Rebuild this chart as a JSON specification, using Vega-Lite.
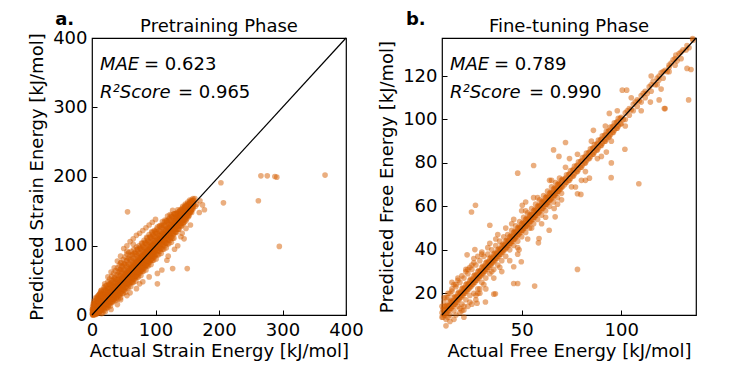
{
"$schema": "https://vega.github.io/schema/vega-lite/v6.json",
"padding": {"left": 28, "top": 10, "right": 0, "bottom": 0},
"background": "white",
"config": {
  "font": "DejaVu Sans",
  "view": {"stroke": "black", "strokeWidth": 1.2},
  "axis": {"domain": false, "grid": false, "ticks": true, "tickSize": -5, "tickColor": "black", "tickWidth": 1, "labelFont": "DejaVu Sans", "titleFont": "DejaVu Sans", "labelFontSize": 18, "titleFontSize": 18, "labelColor": "black", "titleColor": "black", "titleFontWeight": "normal", "labelFlush": false, "labelOverlap": false},
  "axisX": {"labelPadding": 11, "titlePadding": 3},
  "axisY": {"labelPadding": 10, "titlePadding": 6},
  "title": {"font": "DejaVu Sans", "fontSize": 18, "fontWeight": "normal", "color": "black", "offset": -25}
},
"datasets": {
"A": [
{"x":1,"y":1},{"x":1,"y":4},{"x":1,"y":0},{"x":2,"y":3},{"x":2,"y":0},{"x":2,"y":7},{"x":3,"y":2},{"x":3,"y":9},{"x":3,"y":5},{"x":4,"y":6},{"x":4,"y":1},{"x":4,"y":12},{"x":5,"y":4},{"x":5,"y":10},{"x":5,"y":16},{"x":6,"y":8},{"x":6,"y":2},{"x":6,"y":20},{"x":7,"y":5},{"x":7,"y":13},{"x":7,"y":9},{"x":8,"y":10},{"x":8,"y":3},{"x":8,"y":18},{"x":9,"y":7},{"x":9,"y":15},{"x":9,"y":24},{"x":10,"y":12},{"x":10,"y":5},{"x":10,"y":28},
{"x":11,"y":9},{"x":11,"y":17},{"x":11,"y":14},{"x":12,"y":14},{"x":12,"y":6},{"x":12,"y":22},{"x":13,"y":11},{"x":13,"y":19},{"x":13,"y":32},{"x":14,"y":16},{"x":14,"y":8},{"x":14,"y":25},{"x":15,"y":13},{"x":15,"y":21},{"x":15,"y":36},{"x":16,"y":18},{"x":16,"y":9},{"x":16,"y":29},{"x":17,"y":15},{"x":17,"y":23},{"x":17,"y":12},{"x":18,"y":20},{"x":18,"y":11},{"x":18,"y":33},{"x":19,"y":17},{"x":19,"y":25},{"x":19,"y":40},{"x":20,"y":22},{"x":20,"y":13},{"x":20,"y":30},
{"x":21,"y":19},{"x":21,"y":27},{"x":21,"y":42},{"x":22,"y":24},{"x":22,"y":15},{"x":22,"y":35},{"x":23,"y":21},{"x":23,"y":29},{"x":23,"y":12},{"x":24,"y":26},{"x":24,"y":17},{"x":24,"y":38},{"x":25,"y":23},{"x":25,"y":31},{"x":25,"y":48},{"x":26,"y":28},{"x":26,"y":19},{"x":26,"y":14},{"x":27,"y":25},{"x":27,"y":33},{"x":27,"y":44},{"x":28,"y":30},{"x":28,"y":21},{"x":28,"y":52},{"x":29,"y":27},{"x":29,"y":35},{"x":29,"y":18},{"x":30,"y":32},{"x":30,"y":23},{"x":30,"y":46},
{"x":31,"y":29},{"x":31,"y":37},{"x":31,"y":56},{"x":32,"y":34},{"x":32,"y":25},{"x":32,"y":20},{"x":33,"y":31},{"x":33,"y":39},{"x":33,"y":50},{"x":34,"y":36},{"x":34,"y":27},{"x":34,"y":60},{"x":35,"y":33},{"x":35,"y":41},{"x":35,"y":22},{"x":36,"y":38},{"x":36,"y":29},{"x":36,"y":54},{"x":37,"y":35},{"x":37,"y":43},{"x":37,"y":64},{"x":38,"y":40},{"x":38,"y":31},{"x":38,"y":24},{"x":39,"y":37},{"x":39,"y":45},{"x":39,"y":58},{"x":40,"y":42},{"x":40,"y":33},{"x":40,"y":68},
{"x":41,"y":39},{"x":41,"y":47},{"x":41,"y":28},{"x":42,"y":44},{"x":42,"y":35},{"x":42,"y":62},{"x":43,"y":41},{"x":43,"y":49},{"x":43,"y":72},{"x":44,"y":46},{"x":44,"y":37},{"x":44,"y":30},{"x":45,"y":43},{"x":45,"y":51},{"x":45,"y":66},{"x":46,"y":48},{"x":46,"y":39},{"x":46,"y":76},{"x":47,"y":45},{"x":47,"y":53},{"x":47,"y":34},{"x":48,"y":50},{"x":48,"y":41},{"x":48,"y":70},{"x":49,"y":47},{"x":49,"y":55},{"x":49,"y":80},{"x":50,"y":52},{"x":50,"y":43},{"x":50,"y":36},
{"x":51,"y":49},{"x":51,"y":57},{"x":51,"y":74},{"x":52,"y":54},{"x":52,"y":45},{"x":52,"y":84},{"x":53,"y":51},{"x":53,"y":59},{"x":53,"y":40},{"x":54,"y":56},{"x":54,"y":47},{"x":54,"y":78},{"x":55,"y":53},{"x":55,"y":61},{"x":55,"y":88},{"x":56,"y":58},{"x":56,"y":49},{"x":56,"y":44},{"x":57,"y":55},{"x":57,"y":63},{"x":57,"y":82},{"x":58,"y":60},{"x":58,"y":51},{"x":58,"y":90},{"x":59,"y":57},{"x":59,"y":65},{"x":59,"y":46},{"x":60,"y":62},{"x":60,"y":53},{"x":60,"y":86},
{"x":61,"y":59},{"x":61,"y":67},{"x":61,"y":50},{"x":62,"y":64},{"x":62,"y":55},{"x":62,"y":92},{"x":63,"y":61},{"x":63,"y":69},{"x":63,"y":48},{"x":64,"y":66},{"x":64,"y":57},{"x":64,"y":88},{"x":65,"y":63},{"x":65,"y":71},{"x":65,"y":52},{"x":66,"y":68},{"x":66,"y":59},{"x":66,"y":95},{"x":67,"y":65},{"x":67,"y":73},{"x":67,"y":54},{"x":68,"y":70},{"x":68,"y":61},{"x":68,"y":90},{"x":69,"y":67},{"x":69,"y":75},{"x":69,"y":56},{"x":70,"y":72},{"x":70,"y":63},{"x":70,"y":98},
{"x":71,"y":69},{"x":71,"y":77},{"x":71,"y":58},{"x":72,"y":74},{"x":72,"y":65},{"x":72,"y":94},{"x":73,"y":71},{"x":73,"y":79},{"x":73,"y":60},{"x":74,"y":76},{"x":74,"y":67},{"x":74,"y":100},{"x":75,"y":73},{"x":75,"y":81},{"x":75,"y":62},{"x":76,"y":78},{"x":76,"y":69},{"x":76,"y":96},{"x":77,"y":75},{"x":77,"y":83},{"x":77,"y":64},{"x":78,"y":80},{"x":78,"y":71},{"x":78,"y":104},{"x":79,"y":77},{"x":79,"y":85},{"x":79,"y":66},{"x":80,"y":82},{"x":80,"y":73},{"x":80,"y":100},
{"x":81,"y":79},{"x":81,"y":87},{"x":81,"y":68},{"x":82,"y":84},{"x":82,"y":75},{"x":82,"y":108},{"x":83,"y":81},{"x":83,"y":89},{"x":83,"y":70},{"x":84,"y":86},{"x":84,"y":77},{"x":84,"y":104},{"x":85,"y":83},{"x":85,"y":91},{"x":85,"y":72},{"x":86,"y":88},{"x":86,"y":79},{"x":86,"y":112},{"x":87,"y":85},{"x":87,"y":93},{"x":87,"y":74},{"x":88,"y":90},{"x":88,"y":81},{"x":88,"y":108},{"x":89,"y":87},{"x":89,"y":95},{"x":89,"y":76},{"x":90,"y":92},{"x":90,"y":83},{"x":90,"y":116},
{"x":91,"y":89},{"x":91,"y":97},{"x":91,"y":78},{"x":92,"y":94},{"x":92,"y":85},{"x":92,"y":112},{"x":93,"y":91},{"x":93,"y":99},{"x":93,"y":80},{"x":94,"y":96},{"x":94,"y":87},{"x":94,"y":120},{"x":95,"y":93},{"x":95,"y":101},{"x":95,"y":82},{"x":96,"y":98},{"x":96,"y":89},{"x":96,"y":116},{"x":97,"y":95},{"x":97,"y":103},{"x":97,"y":84},{"x":98,"y":100},{"x":98,"y":91},{"x":98,"y":122},{"x":99,"y":97},{"x":99,"y":105},{"x":99,"y":86},{"x":100,"y":102},{"x":100,"y":93},{"x":100,"y":118},
{"x":102,"y":104},{"x":102,"y":96},{"x":102,"y":124},{"x":104,"y":102},{"x":104,"y":110},{"x":104,"y":92},{"x":106,"y":108},{"x":106,"y":100},{"x":106,"y":128},{"x":108,"y":106},{"x":108,"y":114},{"x":108,"y":96},{"x":110,"y":112},{"x":110,"y":104},{"x":110,"y":130},{"x":112,"y":110},{"x":112,"y":118},{"x":112,"y":100},{"x":114,"y":116},{"x":114,"y":108},{"x":114,"y":134},{"x":116,"y":114},{"x":116,"y":122},{"x":116,"y":104},{"x":118,"y":120},{"x":118,"y":112},{"x":118,"y":136},{"x":120,"y":118},{"x":120,"y":126},{"x":120,"y":108},
{"x":122,"y":124},{"x":122,"y":116},{"x":122,"y":140},{"x":124,"y":122},{"x":124,"y":130},{"x":124,"y":112},{"x":126,"y":128},{"x":126,"y":120},{"x":126,"y":142},{"x":128,"y":126},{"x":128,"y":134},{"x":128,"y":116},{"x":130,"y":132},{"x":130,"y":124},{"x":130,"y":146},{"x":132,"y":130},{"x":132,"y":138},{"x":132,"y":120},{"x":134,"y":136},{"x":134,"y":128},{"x":134,"y":148},{"x":136,"y":134},{"x":136,"y":142},{"x":136,"y":124},{"x":138,"y":140},{"x":138,"y":132},{"x":138,"y":150},{"x":140,"y":138},{"x":140,"y":146},{"x":140,"y":128},
{"x":142,"y":144},{"x":142,"y":136},{"x":142,"y":154},{"x":144,"y":142},{"x":144,"y":150},{"x":144,"y":132},{"x":146,"y":148},{"x":146,"y":140},{"x":146,"y":156},{"x":148,"y":146},{"x":148,"y":154},{"x":148,"y":136},{"x":150,"y":152},{"x":150,"y":144},{"x":150,"y":160},{"x":152,"y":150},{"x":152,"y":158},{"x":152,"y":142},{"x":154,"y":156},{"x":154,"y":148},{"x":154,"y":162},{"x":156,"y":154},{"x":156,"y":160},{"x":156,"y":150},{"x":158,"y":160},{"x":158,"y":156},{"x":158,"y":164},{"x":160,"y":162},{"x":160,"y":158},{"x":160,"y":166},
{"x":1,"y":2},{"x":1,"y":6},{"x":1,"y":9},{"x":1,"y":12},{"x":3,"y":0},{"x":3,"y":4},{"x":3,"y":6},{"x":3,"y":13},{"x":3,"y":17},{"x":5,"y":1},{"x":5,"y":3},{"x":5,"y":7},{"x":5,"y":11},{"x":5,"y":20},{"x":7,"y":2},{"x":7,"y":4},{"x":7,"y":7},{"x":7,"y":18},{"x":7,"y":24},{"x":9,"y":3},{"x":9,"y":6},{"x":9,"y":11},{"x":9,"y":20},{"x":9,"y":27},{"x":11,"y":4},{"x":11,"y":7},{"x":11,"y":13},{"x":11,"y":23},{"x":11,"y":29},{"x":13,"y":5},{"x":13,"y":9},{"x":13,"y":15},{"x":13,"y":25},{"x":13,"y":31},
{"x":15,"y":2},{"x":15,"y":8},{"x":15,"y":17},{"x":15,"y":27},{"x":15,"y":34},{"x":17,"y":3},{"x":17,"y":8},{"x":17,"y":13},{"x":17,"y":20},{"x":17,"y":25},{"x":17,"y":31},{"x":19,"y":7},{"x":19,"y":13},{"x":19,"y":21},{"x":19,"y":30},{"x":19,"y":37},{"x":21,"y":5},{"x":21,"y":11},{"x":21,"y":16},{"x":21,"y":20},{"x":21,"y":26},{"x":21,"y":31},{"x":21,"y":36},{"x":23,"y":10},{"x":23,"y":16},{"x":23,"y":25},{"x":23,"y":35},{"x":23,"y":42},
{"x":25,"y":11},{"x":25,"y":16},{"x":25,"y":21},{"x":25,"y":28},{"x":25,"y":33},{"x":25,"y":39},{"x":27,"y":15},{"x":27,"y":21},{"x":27,"y":29},{"x":27,"y":38},{"x":27,"y":45},{"x":29,"y":13},{"x":29,"y":19},{"x":29,"y":24},{"x":29,"y":28},{"x":29,"y":34},{"x":29,"y":39},{"x":29,"y":44},{"x":31,"y":18},{"x":31,"y":24},{"x":31,"y":33},{"x":31,"y":43},{"x":31,"y":50},
{"x":33,"y":19},{"x":33,"y":24},{"x":33,"y":29},{"x":33,"y":36},{"x":33,"y":41},{"x":33,"y":47},{"x":35,"y":23},{"x":35,"y":29},{"x":35,"y":37},{"x":35,"y":46},{"x":35,"y":53},{"x":37,"y":21},{"x":37,"y":27},{"x":37,"y":32},{"x":37,"y":36},{"x":37,"y":42},{"x":37,"y":47},{"x":37,"y":52},{"x":39,"y":26},{"x":39,"y":32},{"x":39,"y":41},{"x":39,"y":51},
{"x":41,"y":23},{"x":41,"y":30},{"x":41,"y":36},{"x":41,"y":41},{"x":41,"y":45},{"x":41,"y":51},{"x":41,"y":58},{"x":43,"y":28},{"x":43,"y":35},{"x":43,"y":46},{"x":43,"y":51},{"x":43,"y":57},{"x":43,"y":65},{"x":45,"y":25},{"x":45,"y":32},{"x":45,"y":39},{"x":45,"y":44},{"x":45,"y":57},{"x":45,"y":64},{"x":47,"y":31},{"x":47,"y":38},{"x":47,"y":44},{"x":47,"y":49},{"x":47,"y":54},{"x":47,"y":62},{"x":47,"y":71},
{"x":49,"y":31},{"x":49,"y":38},{"x":49,"y":44},{"x":49,"y":49},{"x":49,"y":53},{"x":49,"y":59},{"x":49,"y":66},{"x":51,"y":36},{"x":51,"y":43},{"x":51,"y":54},{"x":51,"y":59},{"x":51,"y":65},{"x":51,"y":73},{"x":53,"y":33},{"x":53,"y":40},{"x":53,"y":47},{"x":53,"y":52},{"x":53,"y":59},{"x":53,"y":65},{"x":53,"y":72},{"x":55,"y":39},{"x":55,"y":46},{"x":55,"y":52},{"x":55,"y":57},{"x":55,"y":62},{"x":55,"y":70},{"x":55,"y":79},
{"x":57,"y":39},{"x":57,"y":46},{"x":57,"y":52},{"x":57,"y":57},{"x":57,"y":61},{"x":57,"y":67},{"x":57,"y":74},{"x":59,"y":44},{"x":59,"y":51},{"x":59,"y":62},{"x":59,"y":67},{"x":59,"y":73},{"x":59,"y":81},{"x":61,"y":41},{"x":61,"y":48},{"x":61,"y":55},{"x":61,"y":60},{"x":61,"y":67},{"x":61,"y":73},{"x":61,"y":80},{"x":63,"y":47},{"x":63,"y":54},{"x":63,"y":60},{"x":63,"y":65},{"x":63,"y":70},{"x":63,"y":78},{"x":63,"y":87},
{"x":65,"y":47},{"x":65,"y":54},{"x":65,"y":60},{"x":65,"y":65},{"x":65,"y":69},{"x":65,"y":75},{"x":65,"y":82},{"x":67,"y":52},{"x":67,"y":59},{"x":67,"y":70},{"x":67,"y":75},{"x":67,"y":81},{"x":67,"y":89},{"x":69,"y":49},{"x":69,"y":56},{"x":69,"y":63},{"x":69,"y":68},{"x":69,"y":75},{"x":69,"y":81},{"x":69,"y":88},{"x":71,"y":55},{"x":71,"y":62},{"x":71,"y":68},{"x":71,"y":73},{"x":71,"y":78},{"x":71,"y":86},{"x":71,"y":95},
{"x":73,"y":55},{"x":73,"y":62},{"x":73,"y":68},{"x":73,"y":73},{"x":73,"y":77},{"x":73,"y":83},{"x":73,"y":90},{"x":75,"y":60},{"x":75,"y":67},{"x":75,"y":78},{"x":75,"y":83},{"x":75,"y":89},{"x":75,"y":97},{"x":77,"y":57},{"x":77,"y":64},{"x":77,"y":71},{"x":77,"y":76},{"x":77,"y":83},{"x":77,"y":89},{"x":77,"y":96},{"x":79,"y":63},{"x":79,"y":70},{"x":79,"y":76},{"x":79,"y":81},{"x":79,"y":86},{"x":79,"y":94},{"x":79,"y":103},
{"x":81,"y":63},{"x":81,"y":70},{"x":81,"y":76},{"x":81,"y":81},{"x":81,"y":85},{"x":81,"y":91},{"x":81,"y":98},{"x":83,"y":68},{"x":83,"y":75},{"x":83,"y":86},{"x":83,"y":91},{"x":83,"y":97},{"x":83,"y":105},{"x":85,"y":65},{"x":85,"y":72},{"x":85,"y":79},{"x":85,"y":84},{"x":85,"y":91},{"x":85,"y":97},{"x":85,"y":104},{"x":87,"y":71},{"x":87,"y":78},{"x":87,"y":84},{"x":87,"y":89},{"x":87,"y":94},{"x":87,"y":102},{"x":87,"y":111},
{"x":89,"y":71},{"x":89,"y":78},{"x":89,"y":84},{"x":89,"y":89},{"x":89,"y":93},{"x":89,"y":99},{"x":89,"y":106},{"x":91,"y":76},{"x":91,"y":83},{"x":91,"y":94},{"x":91,"y":99},{"x":91,"y":105},{"x":91,"y":113},{"x":93,"y":73},{"x":93,"y":80},{"x":93,"y":87},{"x":93,"y":92},{"x":93,"y":99},{"x":93,"y":105},{"x":93,"y":112},{"x":95,"y":79},{"x":95,"y":86},{"x":95,"y":92},{"x":95,"y":97},{"x":95,"y":102},{"x":95,"y":110},{"x":95,"y":119},
{"x":97,"y":79},{"x":97,"y":86},{"x":97,"y":92},{"x":97,"y":97},{"x":97,"y":101},{"x":97,"y":107},{"x":97,"y":114},{"x":99,"y":84},{"x":99,"y":91},{"x":99,"y":102},{"x":99,"y":107},{"x":99,"y":113},{"x":99,"y":121},{"x":101,"y":81},{"x":101,"y":88},{"x":101,"y":95},{"x":101,"y":100},{"x":101,"y":107},{"x":101,"y":113},{"x":101,"y":120},{"x":103,"y":87},{"x":103,"y":94},{"x":103,"y":100},{"x":103,"y":105},{"x":103,"y":110},{"x":103,"y":118},{"x":103,"y":127},
{"x":105,"y":87},{"x":105,"y":94},{"x":105,"y":100},{"x":105,"y":105},{"x":105,"y":109},{"x":105,"y":115},{"x":105,"y":122},{"x":107,"y":92},{"x":107,"y":99},{"x":107,"y":105},{"x":107,"y":110},{"x":107,"y":115},{"x":107,"y":121},{"x":107,"y":129},{"x":109,"y":89},{"x":109,"y":96},{"x":109,"y":103},{"x":109,"y":108},{"x":109,"y":115},{"x":109,"y":121},{"x":109,"y":128},{"x":111,"y":95},{"x":111,"y":102},{"x":111,"y":108},{"x":111,"y":113},{"x":111,"y":118},{"x":111,"y":126},{"x":111,"y":135},
{"x":113,"y":95},{"x":113,"y":102},{"x":113,"y":108},{"x":113,"y":113},{"x":113,"y":117},{"x":113,"y":123},{"x":113,"y":130},{"x":115,"y":100},{"x":115,"y":107},{"x":115,"y":113},{"x":115,"y":118},{"x":115,"y":123},{"x":115,"y":129},{"x":115,"y":137},{"x":117,"y":97},{"x":117,"y":104},{"x":117,"y":111},{"x":117,"y":116},{"x":117,"y":123},{"x":117,"y":129},{"x":117,"y":136},{"x":119,"y":103},{"x":119,"y":110},{"x":119,"y":116},{"x":119,"y":121},{"x":119,"y":126},{"x":119,"y":134},{"x":119,"y":143},
{"x":121,"y":103},{"x":121,"y":110},{"x":121,"y":116},{"x":121,"y":121},{"x":121,"y":125},{"x":121,"y":131},{"x":121,"y":138},{"x":123,"y":108},{"x":123,"y":115},{"x":123,"y":121},{"x":123,"y":126},{"x":123,"y":131},{"x":123,"y":137},{"x":123,"y":145},{"x":125,"y":105},{"x":125,"y":112},{"x":125,"y":119},{"x":125,"y":124},{"x":125,"y":131},{"x":125,"y":137},{"x":125,"y":144},{"x":127,"y":111},{"x":127,"y":118},{"x":127,"y":124},{"x":127,"y":129},{"x":127,"y":134},{"x":127,"y":142},{"x":127,"y":151},
{"x":129,"y":111},{"x":129,"y":118},{"x":129,"y":124},{"x":129,"y":129},{"x":129,"y":133},{"x":129,"y":139},{"x":129,"y":146},{"x":131,"y":120},{"x":131,"y":125},{"x":131,"y":130},{"x":131,"y":133},{"x":131,"y":137},{"x":131,"y":141},{"x":131,"y":146},{"x":133,"y":119},{"x":133,"y":124},{"x":133,"y":129},{"x":133,"y":132},{"x":133,"y":137},{"x":133,"y":141},{"x":133,"y":146},{"x":135,"y":124},{"x":135,"y":129},{"x":135,"y":133},{"x":135,"y":136},{"x":135,"y":140},{"x":135,"y":146},{"x":135,"y":152},
{"x":137,"y":124},{"x":137,"y":129},{"x":137,"y":133},{"x":137,"y":137},{"x":137,"y":140},{"x":137,"y":144},{"x":137,"y":149},{"x":139,"y":130},{"x":139,"y":134},{"x":139,"y":138},{"x":139,"y":141},{"x":139,"y":144},{"x":139,"y":147},{"x":139,"y":152},{"x":141,"y":129},{"x":141,"y":133},{"x":141,"y":137},{"x":141,"y":140},{"x":141,"y":145},{"x":141,"y":148},{"x":141,"y":152},{"x":143,"y":133},{"x":143,"y":138},{"x":143,"y":141},{"x":143,"y":144},{"x":143,"y":147},{"x":143,"y":152},{"x":143,"y":157},
{"x":145,"y":134},{"x":145,"y":138},{"x":145,"y":142},{"x":145,"y":145},{"x":145,"y":147},{"x":145,"y":151},{"x":145,"y":155},{"x":147,"y":138},{"x":147,"y":142},{"x":147,"y":146},{"x":147,"y":149},{"x":147,"y":152},{"x":147,"y":155},{"x":147,"y":160},{"x":149,"y":139},{"x":149,"y":142},{"x":149,"y":146},{"x":149,"y":148},{"x":149,"y":152},{"x":149,"y":155},{"x":149,"y":158},{"x":151,"y":143},{"x":151,"y":146},{"x":151,"y":150},{"x":151,"y":152},{"x":151,"y":155},{"x":151,"y":158},{"x":151,"y":163},
{"x":153,"y":144},{"x":153,"y":148},{"x":153,"y":150},{"x":153,"y":153},{"x":153,"y":155},{"x":153,"y":158},{"x":153,"y":161},{"x":155,"y":148},{"x":155,"y":151},{"x":155,"y":154},{"x":155,"y":156},{"x":155,"y":159},{"x":155,"y":162},{"x":155,"y":164},{"x":157,"y":148},{"x":157,"y":152},{"x":157,"y":155},{"x":157,"y":157},{"x":157,"y":160},{"x":157,"y":163},{"x":157,"y":166},{"x":159,"y":153},{"x":159,"y":155},{"x":159,"y":158},{"x":159,"y":160},{"x":159,"y":162},{"x":159,"y":165},{"x":159,"y":168},
{"x":0.5,"y":2},{"x":1,"y":6},{"x":2,"y":2},{"x":3,"y":14},{"x":0.5,"y":8},{"x":4,"y":3},{"x":5,"y":7},{"x":6,"y":15},{"x":7,"y":1},{"x":8,"y":24},{"x":2,"y":16},{"x":9,"y":12},{"x":10,"y":20},{"x":11,"y":3},{"x":12,"y":30},{"x":3,"y":20},{"x":13,"y":7},{"x":14,"y":35},{"x":15,"y":28},{"x":6,"y":25},
{"x":20,"y":45},{"x":25,"y":55},{"x":30,"y":62},{"x":35,"y":68},{"x":40,"y":78},{"x":45,"y":85},{"x":50,"y":96},{"x":55,"y":100},{"x":60,"y":106},{"x":65,"y":110},{"x":70,"y":115},{"x":75,"y":118},{"x":80,"y":122},{"x":85,"y":126},{"x":90,"y":130},{"x":95,"y":134},{"x":100,"y":138},{"x":45,"y":75},{"x":55,"y":92},{"x":65,"y":102},
{"x":30,"y":8},{"x":40,"y":15},{"x":45,"y":22},{"x":55,"y":28},{"x":60,"y":32},{"x":70,"y":38},{"x":75,"y":45},{"x":80,"y":48},{"x":90,"y":55},{"x":103,"y":45},{"x":103,"y":60},{"x":110,"y":65},{"x":118,"y":79},{"x":127,"y":67},{"x":120,"y":85},{"x":130,"y":95},{"x":140,"y":113},{"x":145,"y":110},{"x":150,"y":67},{"x":135,"y":100},{"x":142,"y":118},{"x":148,"y":125},{"x":155,"y":130},
{"x":56,"y":149},{"x":169,"y":148},{"x":174,"y":159},{"x":177,"y":152},{"x":165,"y":160},{"x":163,"y":157},{"x":170,"y":165},{"x":154,"y":166},{"x":162,"y":168},{"x":147,"y":158},{"x":203,"y":191},{"x":207,"y":162},{"x":266,"y":201},{"x":276,"y":201},{"x":288,"y":200},{"x":291,"y":199},{"x":367,"y":202},{"x":262,"y":165},{"x":295,"y":99}
],
"B": [
{"x":10,"y":11},{"x":10,"y":9},{"x":10,"y":14},{"x":11,"y":12},{"x":11,"y":10},{"x":11,"y":16},{"x":12,"y":11},{"x":12,"y":14},{"x":12,"y":8},{"x":13,"y":14},{"x":13,"y":12},{"x":13,"y":18},{"x":14,"y":13},{"x":14,"y":16},{"x":14,"y":10},{"x":15,"y":16},{"x":15,"y":14},{"x":15,"y":21},{"x":16,"y":15},{"x":16,"y":18},{"x":16,"y":12},{"x":17,"y":18},{"x":17,"y":16},{"x":17,"y":23},{"x":18,"y":17},{"x":18,"y":20},{"x":18,"y":14},{"x":19,"y":20},{"x":19,"y":18},{"x":19,"y":25},{"x":20,"y":19},{"x":20,"y":22},{"x":20,"y":15},
{"x":21,"y":22},{"x":21,"y":20},{"x":21,"y":27},{"x":22,"y":21},{"x":22,"y":24},{"x":22,"y":17},{"x":23,"y":24},{"x":23,"y":22},{"x":23,"y":29},{"x":24,"y":23},{"x":24,"y":26},{"x":24,"y":19},{"x":25,"y":26},{"x":25,"y":24},{"x":25,"y":31},{"x":26,"y":25},{"x":26,"y":28},{"x":26,"y":20},{"x":27,"y":28},{"x":27,"y":26},{"x":27,"y":33},{"x":28,"y":27},{"x":28,"y":30},{"x":28,"y":22},{"x":29,"y":30},{"x":29,"y":28},{"x":29,"y":35},{"x":30,"y":29},{"x":30,"y":32},{"x":30,"y":25},
{"x":31,"y":32},{"x":31,"y":30},{"x":31,"y":37},{"x":32,"y":31},{"x":32,"y":34},{"x":32,"y":27},{"x":33,"y":34},{"x":33,"y":32},{"x":33,"y":38},{"x":34,"y":33},{"x":34,"y":36},{"x":34,"y":29},{"x":35,"y":36},{"x":35,"y":34},{"x":35,"y":40},{"x":36,"y":35},{"x":36,"y":38},{"x":36,"y":31},{"x":37,"y":38},{"x":37,"y":36},{"x":37,"y":42},{"x":38,"y":37},{"x":38,"y":40},{"x":38,"y":33},{"x":39,"y":40},{"x":39,"y":38},{"x":39,"y":44},{"x":40,"y":39},{"x":40,"y":42},{"x":40,"y":35},
{"x":41,"y":42},{"x":41,"y":40},{"x":41,"y":46},{"x":42,"y":41},{"x":42,"y":44},{"x":42,"y":37},{"x":43,"y":44},{"x":43,"y":42},{"x":43,"y":47},{"x":44,"y":43},{"x":44,"y":46},{"x":44,"y":40},{"x":45,"y":46},{"x":45,"y":44},{"x":45,"y":49},{"x":46,"y":45},{"x":46,"y":48},{"x":46,"y":42},{"x":47,"y":48},{"x":47,"y":46},{"x":47,"y":51},{"x":48,"y":47},{"x":48,"y":50},{"x":48,"y":44},{"x":49,"y":50},{"x":49,"y":48},{"x":49,"y":53},{"x":50,"y":49},{"x":50,"y":52},{"x":50,"y":46},
{"x":51,"y":52},{"x":51,"y":50},{"x":51,"y":55},{"x":52,"y":51},{"x":52,"y":54},{"x":52,"y":48},{"x":53,"y":54},{"x":53,"y":52},{"x":53,"y":57},{"x":54,"y":53},{"x":54,"y":56},{"x":54,"y":50},{"x":55,"y":56},{"x":55,"y":54},{"x":55,"y":59},{"x":56,"y":55},{"x":56,"y":58},{"x":56,"y":52},{"x":57,"y":58},{"x":57,"y":56},{"x":57,"y":61},{"x":58,"y":57},{"x":58,"y":60},{"x":58,"y":54},{"x":59,"y":60},{"x":59,"y":58},{"x":59,"y":63},{"x":60,"y":59},{"x":60,"y":62},{"x":60,"y":56},
{"x":61,"y":62},{"x":61,"y":60},{"x":61,"y":65},{"x":62,"y":61},{"x":62,"y":64},{"x":62,"y":58},{"x":63,"y":64},{"x":63,"y":62},{"x":63,"y":67},{"x":64,"y":63},{"x":64,"y":66},{"x":64,"y":60},{"x":65,"y":66},{"x":65,"y":64},{"x":65,"y":69},{"x":66,"y":65},{"x":66,"y":68},{"x":66,"y":62},{"x":67,"y":68},{"x":67,"y":66},{"x":67,"y":71},{"x":68,"y":67},{"x":68,"y":70},{"x":68,"y":64},{"x":69,"y":70},{"x":69,"y":68},{"x":69,"y":73},{"x":70,"y":69},{"x":70,"y":72},{"x":70,"y":66},
{"x":72,"y":73},{"x":72,"y":71},{"x":74,"y":75},{"x":74,"y":72},{"x":76,"y":77},{"x":76,"y":74},{"x":78,"y":79},{"x":78,"y":76},{"x":80,"y":81},{"x":80,"y":78},{"x":82,"y":83},{"x":82,"y":80},{"x":84,"y":85},{"x":84,"y":82},{"x":86,"y":87},{"x":86,"y":84},{"x":88,"y":89},{"x":88,"y":86},{"x":90,"y":91},{"x":90,"y":88},{"x":92,"y":93},{"x":92,"y":90},{"x":94,"y":95},{"x":94,"y":92},{"x":96,"y":97},{"x":96,"y":94},{"x":98,"y":99},{"x":98,"y":96},{"x":100,"y":101},{"x":100,"y":98},
{"x":102,"y":103},{"x":102,"y":100},{"x":104,"y":105},{"x":104,"y":102},{"x":106,"y":107},{"x":106,"y":104},{"x":108,"y":109},{"x":108,"y":106},{"x":110,"y":111},{"x":110,"y":108},{"x":112,"y":113},{"x":112,"y":110},{"x":115,"y":116},{"x":115,"y":113},{"x":118,"y":119},{"x":118,"y":116},{"x":121,"y":122},{"x":121,"y":119},{"x":124,"y":125},{"x":124,"y":122},{"x":127,"y":128},{"x":127,"y":125},{"x":130,"y":131},{"x":130,"y":128},
{"x":10.5,"y":9},{"x":10.5,"y":12.5},{"x":11.5,"y":12.5},{"x":11.5,"y":10},{"x":12.5,"y":11},{"x":12.5,"y":14.5},{"x":13.5,"y":14.5},{"x":13.5,"y":12},{"x":14.5,"y":13},{"x":14.5,"y":16.5},{"x":15.5,"y":16.5},{"x":15.5,"y":14},{"x":16.5,"y":15},{"x":16.5,"y":18.5},{"x":17.5,"y":18.5},{"x":17.5,"y":16},{"x":18.5,"y":17},{"x":18.5,"y":20.5},{"x":19.5,"y":20.5},{"x":19.5,"y":18},
{"x":20.5,"y":19},{"x":20.5,"y":22.5},{"x":21.5,"y":22.5},{"x":21.5,"y":20},{"x":22.5,"y":21},{"x":22.5,"y":24.5},{"x":23.5,"y":24.5},{"x":23.5,"y":22},{"x":24.5,"y":23},{"x":24.5,"y":26.5},{"x":25.5,"y":26.5},{"x":25.5,"y":24},{"x":26.5,"y":25},{"x":26.5,"y":28.5},{"x":27.5,"y":28.5},{"x":27.5,"y":26},{"x":28.5,"y":27},{"x":28.5,"y":30.5},{"x":29.5,"y":30.5},{"x":29.5,"y":28},
{"x":30.5,"y":29},{"x":30.5,"y":32.5},{"x":31.5,"y":32.5},{"x":31.5,"y":30},{"x":32.5,"y":31},{"x":32.5,"y":34.5},{"x":33.5,"y":34.5},{"x":33.5,"y":32},{"x":34.5,"y":33},{"x":34.5,"y":36.5},{"x":35.5,"y":36.5},{"x":35.5,"y":34},{"x":36.5,"y":35},{"x":36.5,"y":38.5},{"x":37.5,"y":38.5},{"x":37.5,"y":36},{"x":38.5,"y":37},{"x":38.5,"y":40.5},{"x":39.5,"y":40.5},{"x":39.5,"y":38},
{"x":40.5,"y":39},{"x":40.5,"y":42.5},{"x":41.5,"y":42.5},{"x":41.5,"y":40},{"x":42.5,"y":41},{"x":42.5,"y":44.5},{"x":43.5,"y":44.5},{"x":43.5,"y":42},{"x":44.5,"y":43},{"x":44.5,"y":46.5},{"x":45.5,"y":46.5},{"x":45.5,"y":44},{"x":46.5,"y":45},{"x":46.5,"y":48.5},{"x":47.5,"y":48.5},{"x":47.5,"y":46},{"x":48.5,"y":47},{"x":48.5,"y":50.5},{"x":49.5,"y":50.5},{"x":49.5,"y":48},
{"x":50.5,"y":49},{"x":50.5,"y":52.5},{"x":51.5,"y":52.5},{"x":51.5,"y":50},{"x":52.5,"y":51},{"x":52.5,"y":54.5},{"x":53.5,"y":54.5},{"x":53.5,"y":52},{"x":54.5,"y":53},{"x":54.5,"y":56.5},{"x":55.5,"y":56.5},{"x":55.5,"y":54},{"x":56.5,"y":55},{"x":56.5,"y":58.5},{"x":57.5,"y":58.5},{"x":57.5,"y":56},{"x":58.5,"y":57},{"x":58.5,"y":60.5},{"x":59.5,"y":60.5},{"x":59.5,"y":58},
{"x":60.5,"y":59},{"x":60.5,"y":62.5},{"x":61.5,"y":62.5},{"x":61.5,"y":60},{"x":62.5,"y":61},{"x":62.5,"y":64.5},{"x":63.5,"y":64.5},{"x":63.5,"y":62},{"x":64.5,"y":63},{"x":64.5,"y":66.5},{"x":65.5,"y":66.5},{"x":65.5,"y":64},{"x":66.5,"y":65},{"x":66.5,"y":68.5},{"x":67.5,"y":68.5},{"x":67.5,"y":66},{"x":68.5,"y":67},{"x":68.5,"y":70.5},{"x":69.5,"y":70.5},{"x":69.5,"y":68},
{"x":70.5,"y":69},{"x":70.5,"y":72.5},{"x":71.5,"y":72.5},{"x":71.5,"y":70},{"x":72.5,"y":71},{"x":72.5,"y":74.5},{"x":73.5,"y":74.5},{"x":73.5,"y":72},{"x":74.5,"y":73},{"x":74.5,"y":76.5},{"x":75.5,"y":76.5},{"x":75.5,"y":74},{"x":76.5,"y":75},{"x":76.5,"y":78.5},{"x":77.5,"y":78.5},{"x":77.5,"y":76},{"x":78.5,"y":77},{"x":78.5,"y":80.5},{"x":79.5,"y":80.5},{"x":79.5,"y":78},
{"x":80.5,"y":79},{"x":80.5,"y":82.5},{"x":81.5,"y":82.5},{"x":81.5,"y":80},{"x":82.5,"y":81},{"x":82.5,"y":84.5},{"x":83.5,"y":84.5},{"x":83.5,"y":82},{"x":84.5,"y":83},{"x":84.5,"y":86.5},{"x":85.5,"y":86.5},{"x":85.5,"y":84},{"x":86.5,"y":85},{"x":86.5,"y":88.5},{"x":87.5,"y":88.5},{"x":87.5,"y":86},{"x":88.5,"y":87},{"x":88.5,"y":90.5},{"x":89.5,"y":90.5},{"x":89.5,"y":88},
{"x":90.5,"y":89},{"x":90.5,"y":92.5},{"x":91.5,"y":92.5},{"x":91.5,"y":90},{"x":92.5,"y":91},{"x":92.5,"y":94.5},{"x":93.5,"y":94.5},{"x":93.5,"y":92},{"x":94.5,"y":93},{"x":94.5,"y":96.5},{"x":95.5,"y":96.5},{"x":95.5,"y":94},{"x":96.5,"y":95},{"x":96.5,"y":98.5},{"x":97.5,"y":98.5},{"x":97.5,"y":96},{"x":98.5,"y":97},{"x":98.5,"y":100.5},{"x":99.5,"y":100.5},{"x":99.5,"y":98},
{"x":101,"y":100},{"x":103,"y":104},{"x":105,"y":104.5},{"x":107,"y":108},{"x":109,"y":108.5},{"x":111,"y":112},{"x":113,"y":112},{"x":114,"y":115},{"x":116,"y":117.5},{"x":117,"y":116},{"x":119,"y":120},{"x":120,"y":121.5},{"x":123,"y":122},{"x":125,"y":126},{"x":126,"y":127.5},{"x":128,"y":127},{"x":131,"y":132},{"x":133,"y":134},{"x":134,"y":133},{"x":136,"y":136.5},
{"x":11,"y":18},{"x":12,"y":5},{"x":13,"y":20},{"x":14,"y":7},{"x":15,"y":22},{"x":16,"y":24},{"x":17,"y":10},{"x":18,"y":27},{"x":19,"y":13},{"x":20,"y":28},{"x":21,"y":9},{"x":22,"y":31},{"x":23,"y":14},{"x":24,"y":32},{"x":25,"y":15},{"x":26,"y":36},{"x":27,"y":17},{"x":28,"y":37},{"x":29,"y":20},{"x":30,"y":39},{"x":32,"y":22},{"x":34,"y":43},{"x":36,"y":27},{"x":38,"y":47},{"x":40,"y":30},{"x":42,"y":50},{"x":44,"y":35},{"x":46,"y":54},{"x":48,"y":38},{"x":50,"y":58},{"x":53,"y":45},{"x":56,"y":64},{"x":60,"y":52},{"x":64,"y":72},{"x":70,"y":63},{"x":74,"y":82},{"x":80,"y":72},{"x":86,"y":95},{"x":90,"y":83},
{"x":12,"y":18},{"x":14,"y":20},{"x":16,"y":8},{"x":18,"y":26},{"x":20,"y":12},{"x":22,"y":30},{"x":24,"y":16},{"x":26,"y":34},{"x":28,"y":20},{"x":30,"y":38},{"x":15,"y":25},{"x":19,"y":11},{"x":23,"y":31},{"x":27,"y":19},{"x":11,"y":14},{"x":13,"y":9},{"x":17,"y":24},{"x":21,"y":14},{"x":25,"y":33},{"x":29,"y":22},{"x":33,"y":41},{"x":31,"y":24},{"x":35,"y":30},{"x":37,"y":45},{"x":39,"y":32},
{"x":45,"y":52},{"x":48,"y":41},{"x":52,"y":58},{"x":55,"y":50},{"x":58,"y":64},{"x":62,"y":55},{"x":65,"y":72},{"x":68,"y":61},{"x":72,"y":78},{"x":75,"y":69},{"x":78,"y":84},{"x":82,"y":76},{"x":85,"y":90},{"x":88,"y":82},{"x":92,"y":97},{"x":95,"y":90},{"x":98,"y":104},{"x":102,"y":97},{"x":105,"y":110},{"x":110,"y":104},{"x":115,"y":120},{"x":120,"y":114},
{"x":135.8,"y":137.2},{"x":129,"y":130.3},{"x":135,"y":123},{"x":133.8,"y":109},{"x":122,"y":122.6},{"x":124,"y":124},{"x":118.8,"y":118},{"x":102.7,"y":113.5},{"x":119,"y":109},{"x":122,"y":105},{"x":114.6,"y":108},{"x":94,"y":102.8},{"x":101.8,"y":86.3},{"x":72,"y":89.4},{"x":66,"y":86},{"x":68.7,"y":83},{"x":56,"y":78.8},{"x":48,"y":75.3},{"x":95,"y":80},{"x":92.5,"y":85},{"x":94.9,"y":73.2},{"x":108.8,"y":70.4},{"x":84,"y":73},{"x":82,"y":72},{"x":77,"y":68.9},{"x":78,"y":65.8},{"x":79.7,"y":65.5},{"x":26.8,"y":60.5},{"x":24.8,"y":57.4},{"x":34,"y":51.3},{"x":66.3,"y":59},{"x":66.8,"y":55.2},{"x":63.8,"y":49},{"x":58.7,"y":45.2},{"x":58.4,"y":43.2},{"x":48.7,"y":40},{"x":49.8,"y":34.5},{"x":46,"y":32.2},{"x":46,"y":24.5},{"x":48,"y":24.5},{"x":56.5,"y":23.3},{"x":78,"y":31},{"x":36,"y":19.6},{"x":36.8,"y":19.8},{"x":26.5,"y":40.1},{"x":22.6,"y":37.7},{"x":27.6,"y":15.4},{"x":21,"y":12.3},{"x":31.8,"y":16},{"x":50.3,"y":60.5},{"x":52,"y":62},{"x":132.5,"y":132},{"x":127.4,"y":129.6},{"x":133,"y":123.5},{"x":121.6,"y":105},{"x":100.5,"y":113.5}
]
},
"hconcat": [
{
  "width": 254, "height": 277,
  "title": {"text": "Pretraining Phase"},
  "layer": [
    {"data": {"name": "A"}, "mark": {"type": "circle", "color": "#D55E00", "opacity": 0.5, "size": 32},
     "encoding": {
       "x": {"field": "x", "type": "quantitative", "scale": {"domain": [0, 400], "nice": false, "zero": false}, "axis": {"values": [0, 100, 200, 300, 400], "title": "Actual Strain Energy [kJ/mol]"}},
       "y": {"field": "y", "type": "quantitative", "scale": {"domain": [0, 400], "nice": false, "zero": false}, "axis": {"values": [0, 100, 200, 300, 400], "title": "Predicted Strain Energy [kJ/mol]"}}}},
    {"data": {"values": [{"x": 0, "y": 0}, {"x": 400, "y": 400}]}, "mark": {"type": "line", "color": "black", "strokeWidth": 1.2}, "encoding": {"x": {"field": "x", "type": "quantitative"}, "y": {"field": "y", "type": "quantitative"}}},
    {"data": {"values": [{"x": 12.6, "y": 361, "t": "MAE"}, {"x": 12.6, "y": 320.6, "t": "R²Score"}]}, "mark": {"type": "text", "align": "left", "baseline": "middle", "fontSize": 18, "fontStyle": "italic", "color": "black"}, "encoding": {"x": {"field": "x", "type": "quantitative"}, "y": {"field": "y", "type": "quantitative"}, "text": {"field": "t"}}},
    {"data": {"values": [{"x": 81.9, "y": 361, "t": "= 0.623"}, {"x": 135.4, "y": 320.6, "t": "= 0.965"}]}, "mark": {"type": "text", "align": "left", "baseline": "middle", "fontSize": 18, "color": "black"}, "encoding": {"x": {"field": "x", "type": "quantitative"}, "y": {"field": "y", "type": "quantitative"}, "text": {"field": "t"}}},
    {"data": {"values": [{"x": -58, "y": 426, "t": "a."}]}, "mark": {"type": "text", "align": "left", "baseline": "middle", "fontSize": 18, "fontWeight": "bold", "color": "black"}, "encoding": {"x": {"field": "x", "type": "quantitative"}, "y": {"field": "y", "type": "quantitative"}, "text": {"field": "t"}}}
  ]
},
{
  "width": 254, "height": 277,
  "title": {"text": "Fine-tuning Phase"},
  "layer": [
    {"data": {"name": "B"}, "mark": {"type": "circle", "color": "#D55E00", "opacity": 0.5, "size": 32},
     "encoding": {
       "x": {"field": "x", "type": "quantitative", "scale": {"domain": [10, 137.5], "nice": false, "zero": false}, "axis": {"values": [50, 100], "title": "Actual Free Energy [kJ/mol]"}},
       "y": {"field": "y", "type": "quantitative", "scale": {"domain": [10, 137.5], "nice": false, "zero": false}, "axis": {"values": [20, 40, 60, 80, 100, 120], "title": "Predicted Free Energy [kJ/mol]"}}}},
    {"data": {"values": [{"x": 10, "y": 10}, {"x": 137.5, "y": 137.5}]}, "mark": {"type": "line", "color": "black", "strokeWidth": 1.2}, "encoding": {"x": {"field": "x", "type": "quantitative"}, "y": {"field": "y", "type": "quantitative"}}},
    {"data": {"values": [{"x": 14, "y": 125.1, "t": "MAE"}, {"x": 14, "y": 112.2, "t": "R²Score"}]}, "mark": {"type": "text", "align": "left", "baseline": "middle", "fontSize": 18, "fontStyle": "italic", "color": "black"}, "encoding": {"x": {"field": "x", "type": "quantitative"}, "y": {"field": "y", "type": "quantitative"}, "text": {"field": "t"}}},
    {"data": {"values": [{"x": 36.1, "y": 125.1, "t": "= 0.789"}, {"x": 53.7, "y": 112.2, "t": "= 0.990"}]}, "mark": {"type": "text", "align": "left", "baseline": "middle", "fontSize": 18, "color": "black"}, "encoding": {"x": {"field": "x", "type": "quantitative"}, "y": {"field": "y", "type": "quantitative"}, "text": {"field": "t"}}},
    {"data": {"values": [{"x": -8.1, "y": 145.8, "t": "b."}]}, "mark": {"type": "text", "align": "left", "baseline": "middle", "fontSize": 18, "fontWeight": "bold", "color": "black"}, "encoding": {"x": {"field": "x", "type": "quantitative"}, "y": {"field": "y", "type": "quantitative"}, "text": {"field": "t"}}}
  ]
}
],
"bounds": "flush",
"spacing": 96
}
